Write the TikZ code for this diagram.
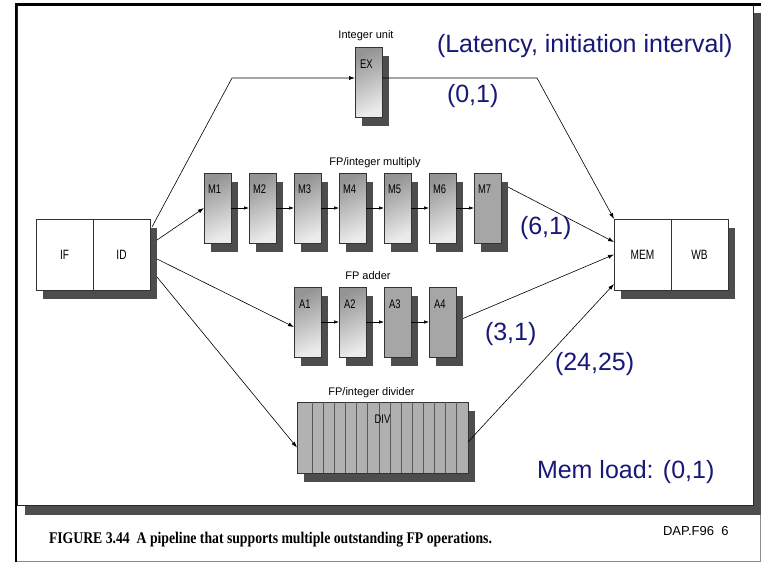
\documentclass[tikz,border=0pt]{standalone}
\usepackage{graphicx}
\usepackage{fontspec}
\setmainfont{Liberation Sans}
\newfontfamily\capfont{Liberation Serif}
\usetikzlibrary{arrows.meta,calc,shadows}
\definecolor{shadowgray}{RGB}{77,77,77}
\definecolor{notenavy}{RGB}{24,24,120}
\definecolor{stagegray}{RGB}{166,166,166}
\newcommand{\narrowtxt}[1]{\scalebox{0.75}[1]{#1}}

\begin{document}
\begin{tikzpicture}[x=1pt,y=-1pt,
  every node/.style={inner sep=0pt, outer sep=0pt},
  boxshadow/.style={drop shadow={shadow xshift=7pt, shadow yshift=-9pt, fill=shadowgray, opacity=1}},
  cell/.style={draw=black!80, line width=0.7pt, fill=white, minimum width=57pt,
    minimum height=71pt, anchor=north west, boxshadow,
    font=\fontsize{13.5}{13.5}\selectfont},
  stagebase/.style={draw=black!80, line width=0.7pt, minimum width=27pt,
    minimum height=70pt, anchor=north west, boxshadow},
  stage/.style={stagebase, top color=black!42, bottom color=black!8, shading angle=25},
  flatstage/.style={stagebase, fill=stagegray},
  stagelab/.style={anchor=north west, font=\fontsize{12.5}{12.5}\selectfont},
  unitlab/.style={anchor=base, font=\fontsize{11}{11}\selectfont},
  note/.style={anchor=base west, text=notenavy, font=\fontsize{25}{25}\selectfont},
  wire/.style={draw=black, line width=0.6pt, -{Latex[length=6pt,width=4pt]}},
  chain/.style={draw=black, line width=0.6pt, -{Latex[length=5pt,width=3.5pt]}},
  slice/.style={draw=black!65, line width=0.8pt}
]
\useasboundingbox (0,0) rectangle (761,562);

% slide frame with its drop shadow
\fill[shadowgray] (25,13) rectangle (761,515);
\draw[black!85, line width=0.8pt, fill=white] (17,5) rectangle (753,505);
\draw[line width=3pt] (15,4.5) -- (761,4.5);
\draw[line width=2.5pt] (16.2,3) -- (16.2,562);
\draw[black!45, line width=0.8pt] (760.5,515) -- (760.5,561) -- (17,561);

% front end and back end of the pipeline
\node[cell] (IF) at (36,219) {\narrowtxt{IF}};
\node[cell] (ID) at (93,219) {\narrowtxt{ID}};
\node[cell] (MEM) at (614,219) {\narrowtxt{MEM}};
\node[cell] (WB) at (671,219) {\narrowtxt{WB}};

% integer unit
\node[stage] (EX) at (355,47) {};
\node[stagelab] (EXt) at ($(EX.north west)+(5,13)$) {\narrowtxt{EX}};
\node[unitlab] (EXl) at (366,38) {Integer unit};

% FP/integer multiplier
\foreach \i/\x in {1/204,2/249,3/294,4/339,5/384,6/429}{
  \node[stage] (M\i) at (\x,173) {};
  \node[stagelab] (M\i t) at ($(M\i.north west)+(4,12)$) {\narrowtxt{M\i}};
}
\node[flatstage] (M7) at (474,173) {};
\node[stagelab] (M7t) at ($(M7.north west)+(4,12)$) {\narrowtxt{M7}};
\node[unitlab] (Ml) at (375,165) {FP/integer multiply};

% FP adder
\node[stage] (A1) at (294,287) {};
\node[stage] (A2) at (339,287) {};
\node[flatstage] (A3) at (384,287) {};
\node[flatstage] (A4) at (429,287) {};
\foreach \i in {1,...,4}{
  \node[stagelab] (A\i t) at ($(A\i.north west)+(5,13)$) {\narrowtxt{A\i}};
}
\node[unitlab] (Al) at (368,279) {FP adder};

% FP/integer divider
\node[stagebase, minimum width=171pt, minimum height=71pt,
      left color=black!30, middle color=black!8, right color=black!32] (DIV) at (297,402) {};
\foreach \k in {0,...,13}{
  \draw[slice] ($(DIV.north west)+(15.3+11.1*\k,0)$) -- ++(0,71);
}
\node[stagelab, anchor=north] (DIVt) at ($(DIV.north)+(0,13)$) {\narrowtxt{DIV}};
\node[unitlab] (Dl) at (371.5,395) {FP/integer divider};

% issue paths
\coordinate (exbendL) at (232,78);
\coordinate (exbendR) at (537,78);
\draw[wire] ($(ID.north east)+(2,8)$) -- (exbendL) -- (exbendL -| EX.west);
\draw[wire] (exbendL -| EX.east) -- (exbendR) -- (MEM.north west);
\draw[wire] ($(ID.east)+(7,-14.5)$) -- (M1.west);
\draw[wire] ($(ID.east)+(7,4.5)$) -- ($(A1.west)+(0,5)$);
\draw[wire] ($(ID.east)+(7,22.5)$) -- ($(DIV.west)+(0,10)$);

% stage to stage
\foreach \a/\b in {M1/M2,M2/M3,M3/M4,M4/M5,M5/M6,M6/M7,A1/A2,A2/A3,A3/A4}{
  \draw[chain] (\a.east) -- (\b.west);
}

% results to MEM
\draw[wire] ($(M7.east)+(7,-21)$) -- ($(MEM.west)+(0,-12.5)$);
\draw[wire] ($(A4.east)+(7,-3.5)$) -- (MEM.west);
\draw[wire] ($(DIV.east)+(0,4.5)$) -- ($(MEM.west)+(0,29.5)$);

% latency / initiation interval notes
\node[note] (lat) at (437,52) {(Latency, initiation interval)};
\node[note] (exnote) at (447,102.5) {(0,1)};
\node[note] (mulnote) at (520,234) {(6,1)};
\node[note] (addnote) at (485,340.5) {(3,1)};
\node[note] (divnote) at (555,370.5) {(24,25)};
\node[note] (memnote) at (537,478) {Mem load: (0,1)};

% caption line
\node[anchor=base west] (cap) at (49,543)
  {\resizebox{443pt}{11.3pt}{\capfont\bfseries FIGURE 3.44\ \ A pipeline that supports multiple outstanding FP operations.}};
\node[anchor=base west, font=\fontsize{13}{13}\selectfont] (slideid) at (663,535) {DAP.F96\ \ 6};
\end{tikzpicture}
\end{document}
